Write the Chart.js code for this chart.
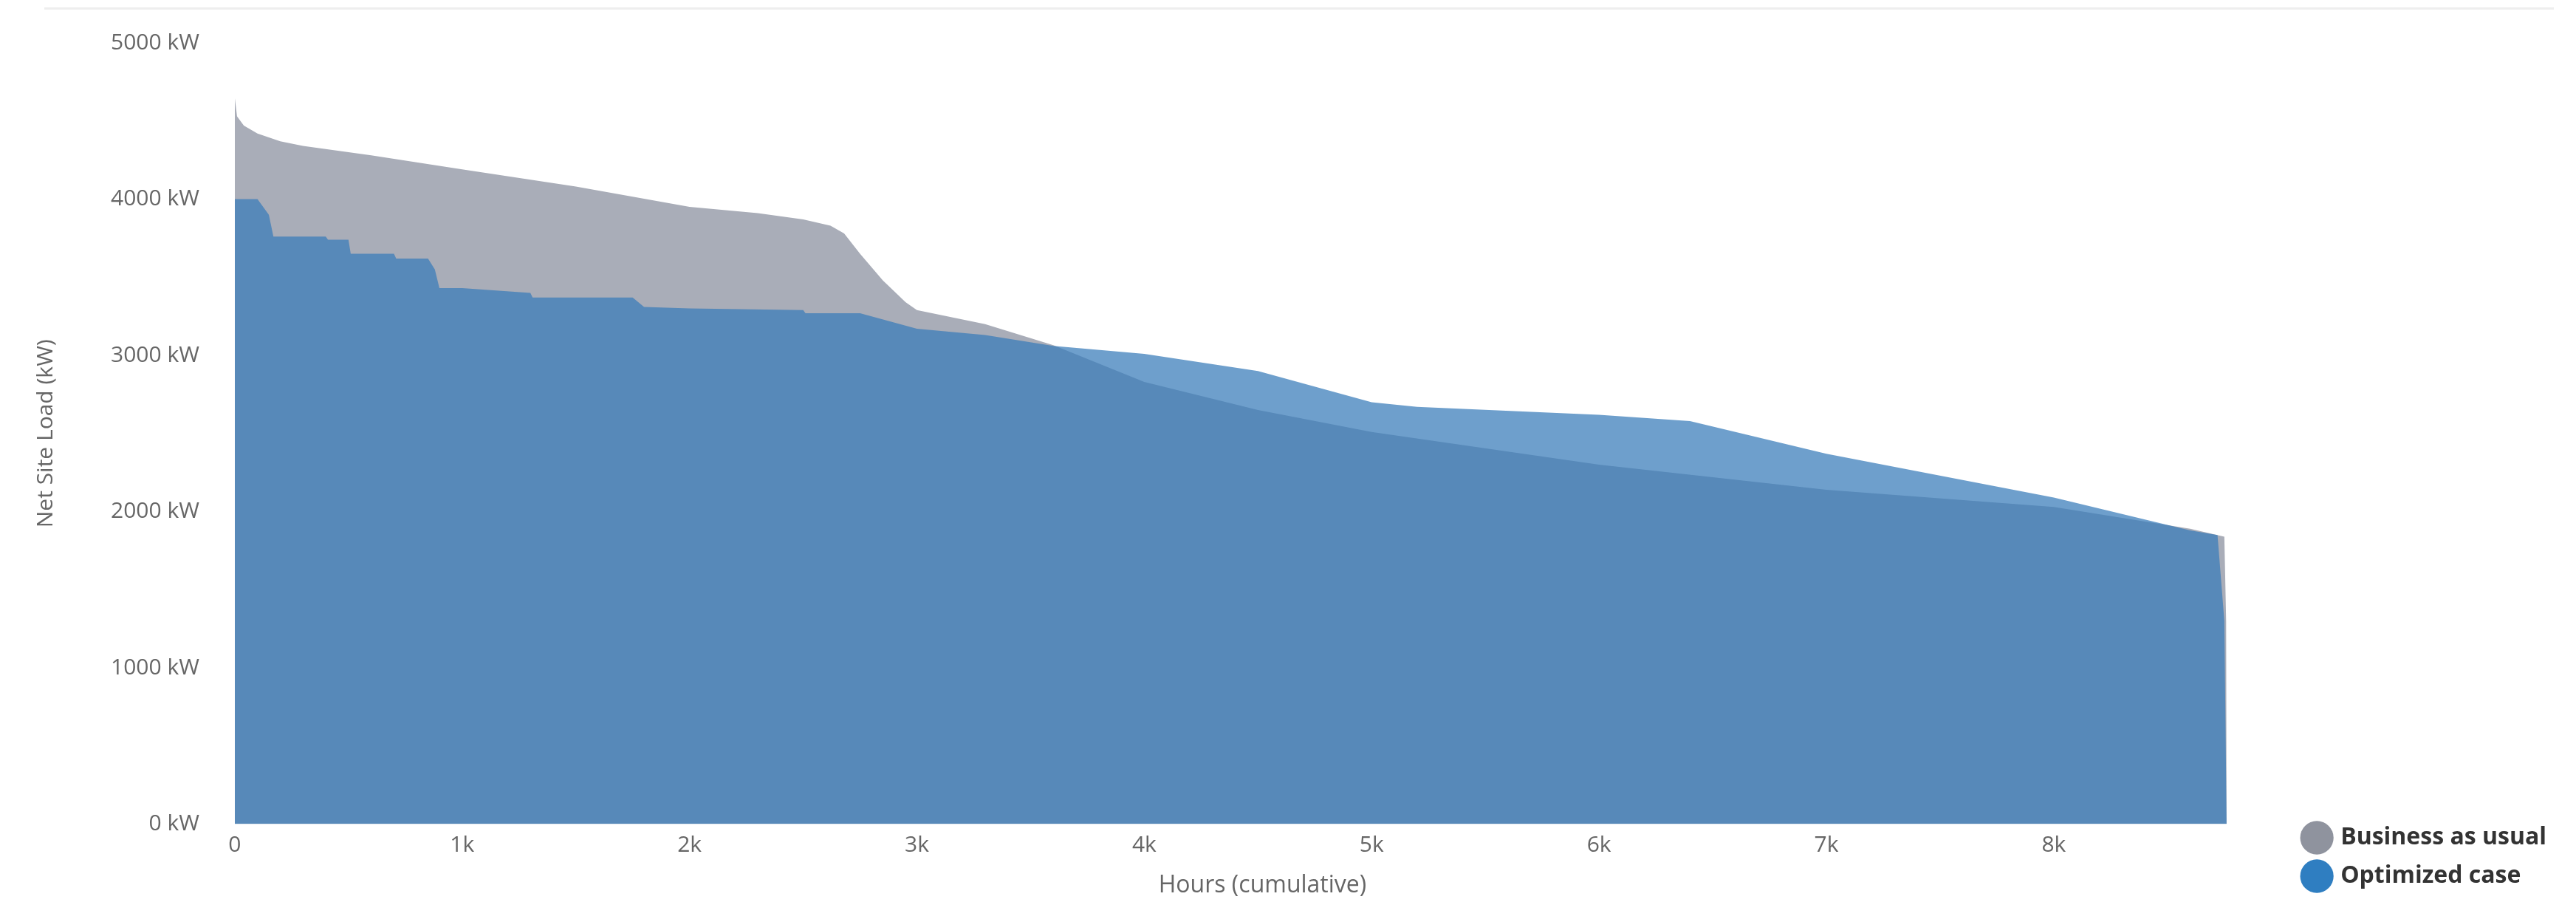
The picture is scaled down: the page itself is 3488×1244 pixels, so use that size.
<!DOCTYPE html>
<html>
<head>
<meta charset="utf-8">
<script src="https://cdn.jsdelivr.net/npm/chart.js@4"></script>
<style>
  html, body { margin: 0; padding: 0; background: #fff; }
  #wrap { position: relative; width: 3488px; height: 1244px; }
  #topline { position: absolute; left: 60px; right: 30px; top: 10px; border-top: 3px solid #eeeeee; }
  canvas { position: absolute; left: 0; top: 0; }
</style>
</head>
<body>
<div id="wrap">
  <div id="topline"></div>
  <canvas id="chart" width="3488" height="1244"></canvas>
</div>
<script>
// load duration curves, hours vs kW
const bauHours = [0, 10, 40, 100, 200, 300, 600, 1000, 1500, 2000, 2300, 2500, 2620, 2680, 2750, 2850, 2950, 3000, 3300, 3600, 4000, 4500, 5000, 6000, 7000, 8000, 8600, 8750, 8758, 8760];
const bauLoad  = [4650, 4530, 4470, 4420, 4370, 4340, 4280, 4190, 4080, 3950, 3910, 3870, 3830, 3780, 3650, 3480, 3340, 3290, 3200, 3065, 2830, 2650, 2510, 2300, 2140, 2030, 1890, 1840, 1300, 0];

const optHours = [0, 100, 150, 170, 400, 410, 500, 510, 700, 710, 850, 880, 900, 1000, 1300, 1310, 1750, 1800, 2000, 2500, 2510, 2750, 3000, 3300, 3600, 4000, 4500, 5000, 5200, 6000, 6400, 7000, 8000, 8600, 8720, 8750, 8760];
const optLoad  = [4000, 4000, 3900, 3760, 3760, 3740, 3740, 3650, 3650, 3620, 3620, 3550, 3430, 3430, 3400, 3370, 3370, 3310, 3300, 3290, 3270, 3270, 3170, 3130, 3060, 3010, 2900, 2700, 2670, 2620, 2580, 2370, 2090, 1880, 1850, 1300, 0];

const seriesNames = ["Business as usual", "Optimized case"];
const xTicks = [0, 1000, 2000, 3000, 4000, 5000, 6000, 7000, 8000];

const toPts = (xs, ys) => xs.map((x, i) => ({ x, y: ys[i] }));

Chart.defaults.font.family = "'Open Sans', sans-serif";
Chart.defaults.color = "#666";

new Chart(document.getElementById("chart"), {
  type: "line",
  data: {
    datasets: [
      {
        label: seriesNames[0],
        data: toPts(bauHours, bauLoad),
        backgroundColor: "#a9adb8",
        borderWidth: 0,
        pointRadius: 0,
        fill: "origin",
        order: 2
      },
      {
        label: seriesNames[1],
        data: toPts(optHours, optLoad),
        backgroundColor: "rgba(56,123,185,0.73)",
        borderWidth: 0,
        pointRadius: 0,
        fill: "origin",
        order: 1
      }
    ]
  },
  options: {
    responsive: false,
    animation: false,
    devicePixelRatio: 1,
    layout: { padding: { top: 34, right: 30, left: 40, bottom: 22 } },
    plugins: {
      tooltip: { enabled: false },
      legend: {
        position: "right",
        align: "end",
        labels: {
          usePointStyle: true,
          pointStyle: "circle",
          boxWidth: 32,
          boxHeight: 32,
          padding: 20,
          color: "#333",
          font: { size: 32, weight: "bold" },
          generateLabels: chart => chart.data.datasets.map((ds, i) => ({
            text: ds.label,
            fillStyle: i === 0 ? "#8f939e" : "#2f7ec1",
            strokeStyle: i === 0 ? "#8f939e" : "#2f7ec1",
            lineWidth: 0,
            pointStyle: "circle",
            datasetIndex: i,
            fontColor: "#333"
          }))
        }
      }
    },
    scales: {
      x: {
        type: "linear",
        min: 0,
        max: 9040,
        afterBuildTicks: axis => { axis.ticks = xTicks.map(v => ({ value: v })); },
        ticks: {
          font: { size: 30 },
          callback: v => v === 0 ? "0" : (v / 1000) + "k"
        },
        grid: { display: false },
        border: { display: false },
        title: { display: true, text: "Hours (cumulative)", font: { size: 32 }, padding: { top: 14 } }
      },
      y: {
        min: 0,
        max: 5000,
        ticks: { stepSize: 1000, font: { size: 30 }, padding: 40, callback: v => v + " kW" },
        grid: { display: false },
        border: { display: false },
        title: { display: true, text: "Net Site Load (kW)", font: { size: 30 }, padding: { bottom: 30 } }
      }
    }
  }
});
</script>
</body>
</html>
